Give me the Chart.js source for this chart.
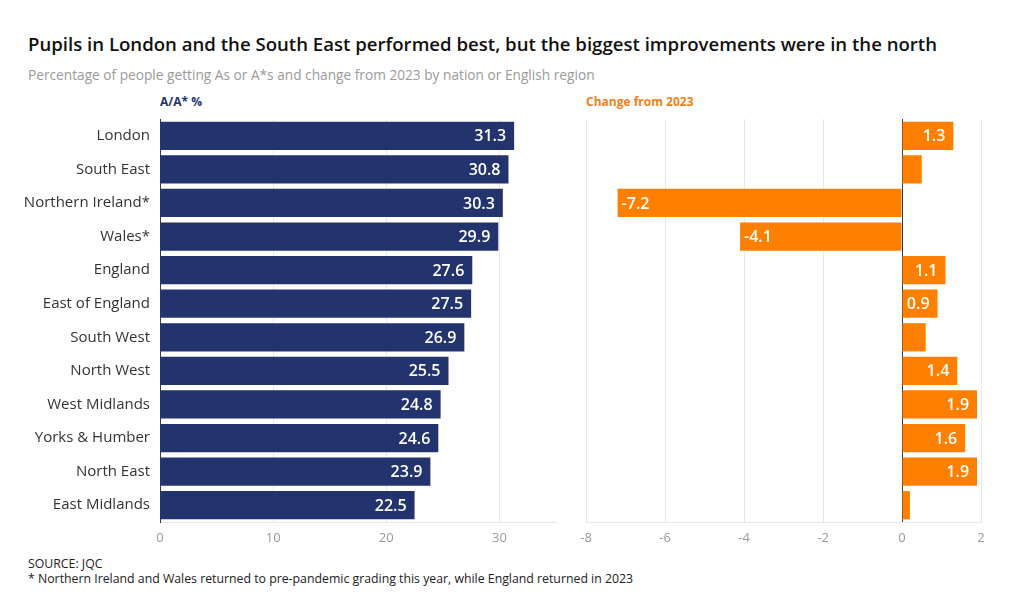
<!DOCTYPE html>
<html><head><meta charset="utf-8">
<script src="https://cdn.jsdelivr.net/npm/chart.js@4"></script>
<style>
html,body{margin:0;padding:0;background:#fff;width:1020px;height:614px;overflow:hidden;font-family:"Open Sans",sans-serif;}
.t{position:absolute;white-space:nowrap;}
#title{left:28px;top:31px;font-size:18.6px;font-weight:600;color:#111;}
#sub{left:28px;top:65px;font-size:13.7px;color:#9a9a9a;}
#h1{left:160px;top:93px;font-size:12px;font-weight:700;color:#23336e;}
#h2{left:586px;top:93px;font-size:12px;font-weight:700;color:#f57f17;}
#src{left:28px;top:555px;font-size:12.3px;color:#222;}
#note{left:28px;top:570px;font-size:12.3px;color:#222;}
canvas{position:absolute;}
</style></head><body>
<div class="t" id="title">Pupils in London and the South East performed best, but the biggest improvements were in the north</div>
<div class="t" id="sub">Percentage of people getting As or A*s and change from 2023 by nation or English region</div>
<div class="t" id="h1">A/A* %</div>
<div class="t" id="h2">Change from 2023</div>
<div style="position:absolute;left:0px;top:100px;width:565px;height:450px;"><canvas id="c1"></canvas></div>
<div style="position:absolute;left:570px;top:110px;width:430px;height:440px;"><canvas id="c2"></canvas></div>
<div class="t" id="src">SOURCE: JQC</div>
<div class="t" id="note">* Northern Ireland and Wales returned to pre-pandemic grading this year, while England returned in 2023</div>
<script>
const regions = ["London","South East","Northern Ireland*","Wales*","England","East of England","South West","North West","West Midlands","Yorks & Humber","North East","East Midlands"];
const shareAAstar = [31.3,30.8,30.3,29.9,27.6,27.5,26.9,25.5,24.8,24.6,23.9,22.5];
const changeFrom2023 = [1.3,0.5,-7.2,-4.1,1.1,0.9,0.6,1.4,1.9,1.6,1.9,0.2];
const shareTicks = [0,10,20,30];
const changeTicks = [-8,-6,-4,-2,0,2];

const labelPlugin = {
  id:'barLabels',
  afterDatasetsDraw(chart){
    const ctx = chart.ctx;
    const meta = chart.getDatasetMeta(0);
    const data = chart.data.datasets[0].data;
    ctx.save();
    ctx.font = '600 16px "Open Sans", sans-serif';
    ctx.fillStyle = '#fff';
    ctx.textBaseline = 'middle';
    meta.data.forEach((bar,i)=>{
      const v = data[i];
      if (Math.abs(v) < 0.8) return;
      const s = v.toFixed(1);
      if (v >= 0){ ctx.textAlign='right'; ctx.fillText(s, bar.x-8, bar.y+1); }
      else { ctx.textAlign='left'; ctx.fillText(s, bar.x+4, bar.y+1); }
    });
    ctx.restore();
  }
};

Chart.defaults.font.family = '"Open Sans", sans-serif';
Chart.defaults.animation = false;

function xScale(min,max,ticks,zeroDark){
  return {
    type:'linear', min:min, max:max,
    afterBuildTicks(s){ s.ticks = ticks.map(v=>({value:v})); },
    afterFit(s){ s.height = 28; },
    ticks:{color:'#9a9a9a', font:{size:13}, padding:8},
    grid:{drawTicks:false, color:(c)=> (zeroDark && c.tick && c.tick.value===0) ? '#333a4a' : '#e8e8e8', lineWidth:1},
    border:{display:true, color:'#e8e8e8'}
  };
}

new Chart(document.getElementById('c1'),{
  type:'bar',
  data:{labels:regions, datasets:[{data:shareAAstar, backgroundColor:'#23336e', categoryPercentage:1, barPercentage:0.84}]},
  options:{
    indexAxis:'y', responsive:true, maintainAspectRatio:false,
    layout:{padding:{top:0,right:9,left:0,bottom:0}},
    plugins:{legend:{display:false}, tooltip:{enabled:false}},
    scales:{
      x: xScale(0,35,shareTicks,false),
      y:{ afterFit(s){ s.width = 160; },
          ticks:{color:'#333', font:{size:15}, padding:10},
          grid:{display:false, drawTicks:false}, border:{display:true,color:'#333a4a'} }
    }
  },
  plugins:[labelPlugin]
});

new Chart(document.getElementById('c2'),{
  type:'bar',
  data:{labels:regions, datasets:[{data:changeFrom2023, backgroundColor:'#ff7f00', categoryPercentage:1, barPercentage:0.84}]},
  options:{
    indexAxis:'y', responsive:true, maintainAspectRatio:false,
    layout:{padding:{top:9,right:19,left:16,bottom:0}},
    plugins:{legend:{display:false}, tooltip:{enabled:false}},
    scales:{
      x: xScale(-8,2,changeTicks,true),
      y:{ display:false }
    }
  },
  plugins:[labelPlugin]
});
</script>
</body></html>
